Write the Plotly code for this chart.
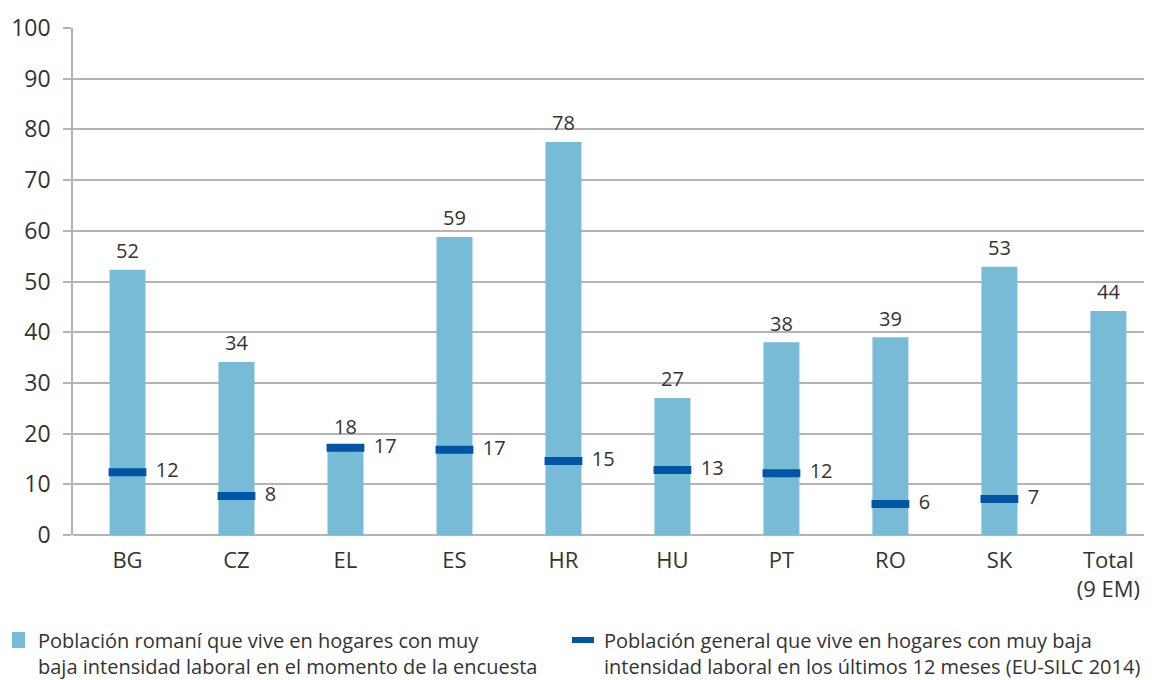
import plotly.graph_objects as go

# data
countries = ['BG', 'CZ', 'EL', 'ES', 'HR', 'HU', 'PT', 'RO', 'SK', 'Total<br>(9 EM)']
roma = [52.3, 34.1, 17.6, 58.8, 77.5, 27.0, 38.0, 39.0, 52.9, 44.2]
general_countries = ['BG', 'CZ', 'EL', 'ES', 'HR', 'HU', 'PT', 'RO', 'SK']
general = [12.4, 7.7, 17.2, 16.8, 14.6, 12.8, 12.2, 6.1, 7.1]

roma_lines = ['Población romaní que vive en hogares con muy',
              'baja intensidad laboral en el momento de la encuesta']
general_lines = ['Población general que vive en hogares con muy baja',
                 'intensidad laboral en los últimos 12 meses (EU-SILC 2014)']

FONT = 'Open Sans'
TXT = '#333333'
GRID = '#b4b4b4'
LIGHT = '#78bbd6'
DARK = '#0055a4'

fig = go.Figure()

fig.add_trace(go.Bar(
    x=countries,
    y=roma,
    name='<br>'.join(roma_lines),
    marker=dict(color=LIGHT, line=dict(width=0)),
    width=0.33,
))

# value labels above the bars (a bit more room than bar 'outside' text)
fig.add_trace(go.Scatter(
    x=countries,
    y=roma,
    mode='markers+text',
    marker=dict(size=9, color='rgba(0,0,0,0)'),
    texttemplate='%{y:.0f}',
    textposition='top center',
    textfont=dict(family=FONT, size=20, color=TXT),
    cliponaxis=False,
    hoverinfo='skip',
))

fig.add_trace(go.Scatter(
    x=general_countries,
    y=general,
    name='<br>'.join(general_lines),
    mode='markers+text',
    marker=dict(symbol='line-ew', size=27,
                line=dict(color=DARK, width=8)),
    texttemplate='\u00a0\u00a0%{y:.0f}',
    textposition='middle right',
    textfont=dict(family=FONT, size=20, color=TXT),
    cliponaxis=False,
))


# the page is drawn 8px in from the top-left corner (body margin),
# so the figure is 8px smaller and margins are shifted by 8px.
# hand-made legend below the plot; coordinates in screen pixels
def px_x(px):
    return (px - 73) / 1079


def px_y(py):
    return (535 - py) / 507


shapes = [
    dict(type='rect', xref='paper', yref='paper',
         x0=px_x(12), x1=px_x(25), y0=px_y(648), y1=px_y(632),
         fillcolor=LIGHT, line=dict(width=0)),
    dict(type='rect', xref='paper', yref='paper',
         x0=px_x(572), x1=px_x(594), y0=px_y(643), y1=px_y(637),
         fillcolor=DARK, line=dict(width=0)),
]
annotations = []
for lines, left in [(roma_lines, 36), (general_lines, 602)]:
    annotations.append(dict(
        text='<br>'.join(lines), xref='paper', yref='paper',
        x=px_x(left), y=px_y(653),
        xanchor='left', yanchor='middle',
        align='left', showarrow=False,
        font=dict(family=FONT, size=20, color=TXT)))

fig.update_layout(
    width=1144,
    height=672,
    margin=dict(l=65, r=0, t=20, b=145, autoexpand=False),
    paper_bgcolor='white',
    plot_bgcolor='white',
    font=dict(family=FONT, size=22, color=TXT),
    showlegend=False,
    shapes=shapes,
    annotations=annotations,
)

fig.update_xaxes(
    range=[-0.5, 9.4],
    showgrid=False,
    showline=False,
    ticks='',
    tickfont=dict(family=FONT, size=22, color=TXT),
    ticklabelstandoff=10,
)

fig.update_yaxes(
    range=[0, 100],
    dtick=10,
    showgrid=True,
    gridcolor=GRID,
    gridwidth=1.5,
    showline=True,
    linecolor=GRID,
    linewidth=1.5,
    ticks='outside',
    ticklen=8,
    tickcolor=GRID,
    tickwidth=1.5,
    zeroline=True,
    zerolinecolor=GRID,
    zerolinewidth=2,
    tickfont=dict(family=FONT, size=23, color=TXT),
    ticklabelstandoff=8,
)

fig.write_html('out.html')
